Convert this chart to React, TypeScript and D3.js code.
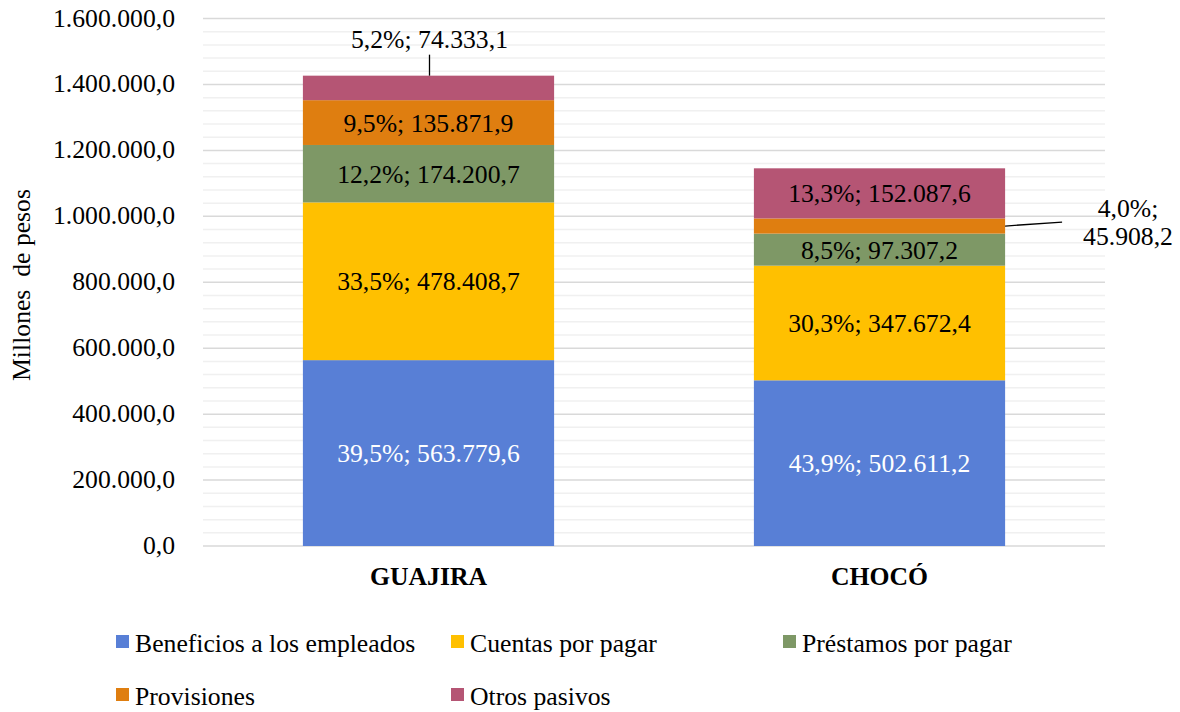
import React from 'react';
import * as d3 from 'd3';

const categories = ['GUAJIRA', 'CHOCÓ'];
const seriesNames = [
  'Beneficios a los empleados',
  'Cuentas por pagar',
  'Préstamos por pagar',
  'Provisiones',
  'Otros pasivos',
];
const guajiraValues = [563779.6, 478408.7, 174200.7, 135871.9, 74333.1];
const chocoValues = [502611.2, 347672.4, 97307.2, 45908.2, 152087.6];
const guajiraPct = [39.5, 33.5, 12.2, 9.5, 5.2];
const chocoPct = [43.9, 30.3, 8.5, 4.0, 13.3];
const colors = ['#587fd6', '#ffc000', '#7e9866', '#df7e10', '#b55574'];
const labelColors = ['#ffffff', '#000000', '#000000', '#000000', '#000000'];
const yMax = 1600000;

const es = d3.formatLocale({ decimal: ',', thousands: '.', grouping: [3], currency: ['$', ''] });
const fmt = es.format(',.1f');

const App = () => {
  const width = 1180;
  const height = 712;
  const left = 203;
  const right = 1105;
  const top = 18.5;
  const bottom = 546;
  const size = 25.7;
  const fs = { fontFamily: "'Liberation Serif'" };

  const x = d3.scaleBand().domain(categories).range([left, right]).paddingInner(0.443).paddingOuter(0.2215);
  const y = d3.scaleLinear().domain([0, yMax]).range([bottom, top]);
  const bw = x.bandwidth();

  const minor = d3.range(0, yMax + 1, 40000).filter((v) => v % 200000 !== 0);
  const major = d3.range(0, yMax + 1, 200000);

  const rows = [
    { cat: categories[0], values: guajiraValues, pct: guajiraPct },
    { cat: categories[1], values: chocoValues, pct: chocoPct },
  ];

  // legend: [marker x, text baseline]
  const legendPos = [
    [116, 652], [451, 652], [783, 652],
    [116, 705], [451, 705],
  ];

  return (
    <svg
      width={width}
      height={height}
      style={{ display: 'block', background: '#fff', position: 'absolute', left: 0, top: 0 }}
    >
      {minor.map((d) => (
        <line key={'mi' + d} x1={left} x2={right} y1={y(d)} y2={y(d)} stroke="#f0f0f0" strokeWidth={1.5} />
      ))}
      {major.map((d) => (
        <line key={'ma' + d} x1={left} x2={right} y1={y(d)} y2={y(d)} stroke="#d9d9d9" strokeWidth={1.5} />
      ))}
      {major.map((d) => (
        <text key={'t' + d} x={175} y={y(d) + 8} textAnchor="end" fontSize={size} style={fs}>
          {fmt(d)}
        </text>
      ))}
      <text
        transform="translate(30, 285) rotate(-90)"
        textAnchor="middle"
        fontSize={size}
        style={{ ...fs, whiteSpace: 'pre' }}
      >
        {'Millones  de pesos'}
      </text>

      {rows.map((row) => {
        const bx = x(row.cat) as number;
        const cx = bx + bw / 2;
        const stack = d3.cumsum(row.values);
        return row.values.map((v, i) => {
          const y1 = stack[i];
          const y0 = y1 - v;
          const cy = (y(y0) + y(y1)) / 2;
          const pctText = `${fmt(row.pct[i])}%;`;
          const label = `${pctText} ${fmt(v)}`;
          let lab;
          if (row.cat === 'GUAJIRA' && i === 4) {
            lab = (
              <g>
                <line x1={cx + 1} x2={cx + 1} y1={y(y1)} y2={y(y1) - 21} stroke="#000" strokeWidth={1.3} />
                <text x={cx + 1} y={y(y1) - 28} textAnchor="middle" fontSize={size} fill={labelColors[i]} style={fs}>
                  {label}
                </text>
              </g>
            );
          } else if (row.cat === 'CHOCÓ' && i === 3) {
            lab = (
              <g>
                <line x1={bx + bw} x2={bx + bw + 57} y1={cy} y2={cy - 4} stroke="#000" strokeWidth={1.3} />
                <text textAnchor="middle" fontSize={size} fill={labelColors[i]} style={fs}>
                  <tspan x={1128} y={cy - 9}>{pctText}</tspan>
                  <tspan x={1128} y={cy + 19}>{fmt(v)}</tspan>
                </text>
              </g>
            );
          } else {
            lab = (
              <text x={cx} y={cy + 9} textAnchor="middle" fontSize={size} fill={labelColors[i]} style={fs}>
                {label}
              </text>
            );
          }
          return (
            <g key={row.cat + i}>
              <rect x={bx} y={y(y1)} width={bw} height={y(y0) - y(y1)} fill={colors[i]} />
              {lab}
            </g>
          );
        });
      })}

      {categories.map((c) => (
        <text
          key={c}
          x={(x(c) as number) + bw / 2}
          y={585}
          textAnchor="middle"
          fontSize={size}
          fontWeight="bold"
          style={fs}
        >
          {c}
        </text>
      ))}

      {seriesNames.map((name, i) => {
        const [lx, ly] = legendPos[i];
        return (
          <g key={name}>
            <rect x={lx} y={ly - 17} width={13} height={13} fill={colors[i]} />
            <text x={lx + 19} y={ly} fontSize={size} style={fs}>
              {name}
            </text>
          </g>
        );
      })}
    </svg>
  );
};

export default App;
